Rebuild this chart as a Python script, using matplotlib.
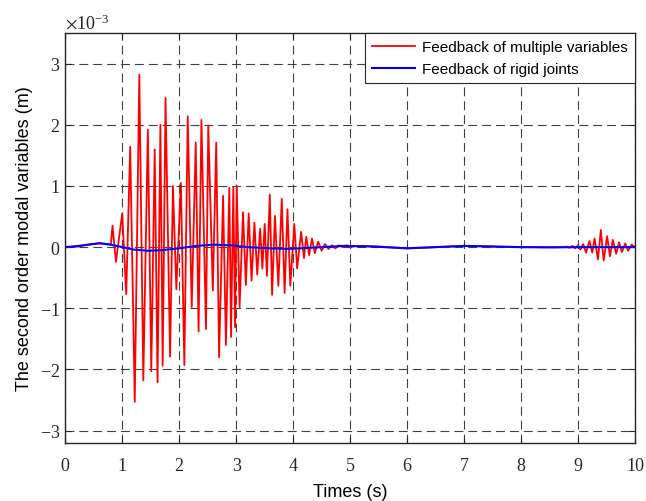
import numpy as np
import matplotlib
matplotlib.use("Agg")
import matplotlib.pyplot as plt

# modal response, values in units of 1e-3 m
red_t = [0.00, 0.30, 0.60, 0.75, 0.80,
         0.83, 0.89, 1.00, 1.07, 1.14, 1.22, 1.30, 1.37, 1.45, 1.51,
         1.57, 1.62, 1.67, 1.71, 1.76, 1.84, 1.89, 1.95, 2.03, 2.09,
         2.15, 2.22, 2.29, 2.34, 2.39, 2.47, 2.51, 2.59, 2.65, 2.70,
         2.77, 2.82, 2.88, 2.91, 2.95, 2.98, 3.01, 3.06, 3.12, 3.17,
         3.22, 3.27, 3.32, 3.37, 3.42, 3.46, 3.50, 3.54, 3.59, 3.63,
         3.68, 3.74, 3.80, 3.85, 3.90, 3.95, 4.02, 4.07, 4.14, 4.19,
         4.23, 4.28, 4.33, 4.38, 4.44, 4.50, 4.56, 4.62, 4.68, 4.74,
         4.80, 4.87, 4.94, 5.00, 5.10, 5.50, 6.00, 6.50, 7.00, 7.50,
         8.00, 8.50, 8.60, 8.65, 8.70, 8.75, 8.80, 8.85, 8.90, 8.95,
         9.00, 9.04, 9.09, 9.14, 9.20, 9.25, 9.29, 9.35, 9.40, 9.45,
         9.51, 9.56, 9.61, 9.67, 9.72, 9.77, 9.83, 9.88, 9.94, 10.00]
red_mm = [0.00, 0.03, 0.06, 0.05, 0.04,
          0.35, -0.24, 0.55, -0.77, 1.64, -2.53, 2.82, -2.18, 1.92, -2.03,
          1.60, -2.21, 2.00, -1.94, 2.44, -1.79, 1.00, -0.69, 1.05, -1.93,
          2.14, -0.98, 1.71, -1.38, 2.08, -1.34, 1.99, -0.71, 1.71, -1.80,
          0.84, -1.60, 0.97, -1.47, 0.98, -1.31, 1.00, -0.98, 0.57, -0.62,
          0.55, -0.55, 0.40, -0.45, 0.30, -0.35, 0.38, -0.47, 0.86, -0.78,
          0.51, -0.63, 0.79, -0.75, 0.62, -0.63, 0.38, -0.35, 0.25, -0.18,
          0.17, -0.13, 0.14, -0.10, 0.09, -0.06, 0.05, -0.03, 0.03, -0.02,
          0.03, 0.00, 0.03, 0.00, 0.02, 0.01, -0.02, 0.00, 0.02, 0.01,
          0.00, 0.00, 0.00, 0.00, 0.00, 0.00, 0.01, -0.01, 0.02, -0.02,
          0.03, -0.04, 0.05, -0.09, 0.10, -0.09, 0.14, -0.20, 0.28, -0.22,
          0.18, -0.15, 0.12, -0.11, 0.08, -0.08, 0.06, -0.06, 0.04, 0.00]

blue_t = [0.0, 0.2, 0.4, 0.6, 0.8, 1.0, 1.2, 1.45, 1.7, 2.0, 2.3, 2.6,
          2.9, 3.2, 3.6, 3.9, 4.3, 4.9, 5.4, 6.0, 6.5, 7.0, 7.5, 8.0,
          8.5, 9.0, 10.0]
blue_mm = [0.0, 0.01, 0.04, 0.065, 0.04, 0.0, -0.04, -0.06, -0.05, -0.02,
           0.02, 0.04, 0.03, 0.0, -0.02, -0.03, -0.01, 0.02, 0.01, -0.02,
           0.0, 0.02, 0.01, 0.0, -0.005, 0.0, 0.0]

x_ticks = np.arange(0, 11, 1)
y_ticks = np.arange(-3, 4, 1) * 1e-3

plt.rcParams['font.family'] = ['Liberation Serif', 'DejaVu Serif']
plt.rcParams['mathtext.fontset'] = 'stix'

fig = plt.figure(figsize=(6.46, 5.02), dpi=100)
ax = fig.add_axes([0.101, 0.116, 0.882, 0.816])

ax.plot(red_t, np.array(red_mm) * 1e-3, color='#ff0000', lw=1.3,
        label='Feedback of multiple variables')
ax.plot(blue_t, np.array(blue_mm) * 1e-3, color='#0000ff', lw=1.5,
        label='Feedback of rigid joints')

ax.set_xlim(0, 10)
ax.set_ylim(-3.2e-3, 3.5e-3)
ax.set_xticks(x_ticks)
ax.set_yticks(y_ticks)
ax.ticklabel_format(axis='y', style='sci', scilimits=(0, 0), useMathText=True)
ax.tick_params(direction='in', top=True, right=True, labelsize=13,
               length=4, width=0.8, colors='#262626')
ax.tick_params(axis='x', pad=10)
ax.yaxis.get_offset_text().set_fontsize(13)

ax.grid(True, color='#404040', lw=0.8, dashes=(8, 4.5))
for s in ax.spines.values():
    s.set_color('#262626')
    s.set_linewidth(1.0)

ax.set_xlabel('Times (s)', fontsize=13, family='Liberation Sans', labelpad=7)
ax.set_ylabel('The second order modal variables (m)', fontsize=13,
              family='Liberation Sans', labelpad=5)

leg = ax.legend(loc='upper right', borderaxespad=0, fancybox=False,
                edgecolor='#262626', framealpha=1, handlelength=2.8,
                prop={'family': 'Liberation Sans', 'size': 11},
                labelspacing=0.55, borderpad=0.45, handletextpad=0.5)
leg.get_frame().set_linewidth(0.8)

fig.savefig('out.png', dpi=100)
